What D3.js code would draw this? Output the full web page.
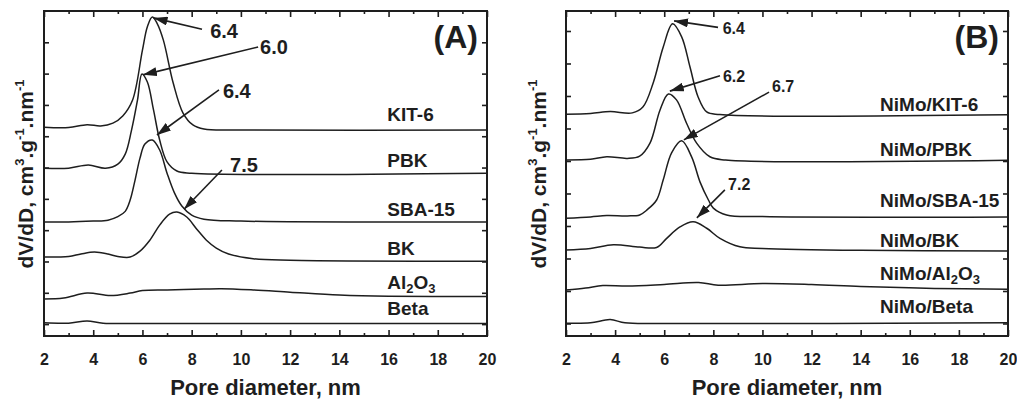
<!DOCTYPE html>
<meta charset="utf-8">
<style>
body { margin: 0; background: #fff; }
svg { font-family: "Liberation Sans", Arial, sans-serif; font-weight: bold; }
.curve { fill: none; stroke: #1e1e1e; stroke-width: 1.5px; }
.frame { fill: none; stroke: #1e1e1e; stroke-width: 2px; }
.axis path { display: none; }
.axis line { stroke: #1e1e1e; stroke-width: 1.6px; }
.axis text { font-size: 16px; fill: #1e1e1e; font-weight: bold; font-family: "Liberation Sans", Arial, sans-serif; }
.lbl { font-size: 19px; fill: #1e1e1e; }
.ann { fill: #1e1e1e; }
.arrow { stroke: #1e1e1e; stroke-width: 1.6px; }
</style>
<svg width="1017" height="399"></svg>
<script src="https://cdn.jsdelivr.net/npm/d3@7"></script>
<script>
// ticks
var xMajor = [2, 4, 6, 8, 10, 12, 14, 16, 18, 20];
var xMinor = [3, 5, 7, 9, 11, 13, 15, 17, 19];
var yTicks = [0, 1, 2, 3, 4, 5, 6, 7, 8, 9];

// panel A - supports (offset curves, arbitrary units)
var kit6 = [[2,6.29],[3,6.28],[3.75,6.37],[4.3,6.33],[4.8,6.42],[5.2,6.65],[5.6,7.16],[6.0,8.75],[6.2,9.5],[6.4,9.81],[6.6,9.6],[6.85,9.07],[7.25,7.7],[7.65,6.74],[8.05,6.36],[8.5,6.23],[10,6.2],[20,6.2]];
var pbk = [[2,4.98],[3,4.98],[3.8,5.08],[4.5,4.98],[5.0,5.11],[5.3,5.43],[5.55,6.17],[5.8,7.16],[5.98,7.99],[6.2,7.73],[6.45,6.84],[6.7,5.88],[7.0,5.18],[7.4,4.89],[8,4.82],[20,4.82]];
var sba15 = [[2,3.26],[3,3.26],[4,3.29],[4.6,3.32],[5.0,3.43],[5.3,3.6],[5.5,3.96],[5.7,4.6],[5.9,5.3],[6.1,5.75],[6.4,5.88],[6.7,5.56],[7.0,4.82],[7.3,4.19],[7.6,3.77],[8.0,3.48],[8.5,3.35],[10,3.29],[20,3.26]];
var bk = [[2,2.14],[3,2.16],[3.5,2.24],[4.05,2.3],[4.6,2.24],[5.0,2.16],[5.5,2.14],[5.9,2.33],[6.3,2.68],[6.7,3.16],[7.1,3.51],[7.4,3.58],[7.8,3.42],[8.2,3.04],[8.6,2.68],[9.0,2.43],[9.5,2.24],[10.5,2.09],[12,2.04],[20,2.01]];
var al2o3 = [[2,0.8],[2.8,0.83],[3.75,0.99],[4.7,0.91],[5.5,0.99],[6.0,1.07],[7,1.09],[8.5,1.12],[9.2,1.13],[10.5,1.09],[12,1.02],[14,0.93],[16,0.89],[20,0.88]];
var beta = [[2,0.04],[3,0.03],[3.75,0.1],[4.4,0.03],[6,0.02],[20,0.02]];
var namesA = ["KIT-6", "PBK", "SBA-15", "BK", "Al|2|O|3", "Beta"];

// panel B - NiMo catalysts
var nmKit6 = [[2,6.44],[3,6.46],[3.8,6.52],[4.7,6.48],[5.13,6.66],[5.55,7.4],[5.96,8.51],[6.34,9.22],[6.71,8.82],[7.05,7.89],[7.38,6.97],[7.73,6.51],[8.27,6.43],[20,6.42]];
var nmPbk = [[2,5.03],[3,5.05],[3.66,5.13],[4.5,5.08],[5.0,5.15],[5.42,5.55],[5.83,6.57],[6.17,7.06],[6.5,6.88],[6.91,6.16],[7.32,5.55],[7.86,5.13],[8.5,5.03],[20,5.02]];
var nmSba15 = [[2,3.24],[3,3.28],[3.66,3.32],[4.5,3.31],[5.0,3.34],[5.29,3.49],[5.69,3.8],[5.96,4.42],[6.3,5.25],[6.71,5.62],[7.12,5.12],[7.46,4.35],[7.8,3.8],[8.0,3.55],[8.54,3.34],[10,3.29],[20,3.28]];
var nmBk = [[2,2.26],[3,2.31],[3.93,2.42],[5,2.35],[5.69,2.34],[6.1,2.62],[6.64,2.97],[7.18,3.13],[7.73,2.93],[8.27,2.62],[9.08,2.36],[10,2.31],[14,2.25],[20,2.23]];
var nmAl2o3 = [[2,1.03],[2.8,1.09],[3.5,1.17],[4.5,1.15],[6,1.2],[7.4,1.26],[8.2,1.18],[10,1.23],[12,1.2],[14,1.14],[17,1.08],[20,1.05]];
var nmBeta = [[2,0.01],[3,0.02],[3.8,0.12],[4.4,0.02],[6,0.0],[20,0.02]];
var namesB = ["NiMo/KIT-6", "NiMo/PBK", "NiMo/SBA-15", "NiMo/BK", "NiMo/Al|2|O|3", "NiMo/Beta"];

// peak annotations: text, arrow tip, arrow tail, text anchor (data units)
var peaksA = [
  {t: "6.4", tip: [6.45, 9.78], tail: [8.42, 9.42], at: [8.75, 9.15]},
  {t: "6.0", tip: [6.02, 7.96], tail: [10.7, 8.85], at: [10.78, 8.63]},
  {t: "6.4", tip: [6.59, 6.04], tail: [9.11, 7.48], at: [9.27, 7.22]},
  {t: "7.5", tip: [7.69, 3.67], tail: [9.23, 4.92], at: [9.56, 4.86]}
];
var peaksB = [
  {t: "6.4", tip: [6.4, 9.31], tail: [8.19, 9.11], at: [8.38, 8.92]},
  {t: "6.2", tip: [6.23, 7.15], tail: [8.27, 7.62], at: [8.39, 7.43]},
  {t: "6.7", tip: [6.8, 5.65], tail: [10.27, 7.12], at: [10.39, 7.12]},
  {t: "7.2", tip: [7.33, 3.25], tail: [8.47, 4.11], at: [8.6, 4.11]}
];

var svg = d3.select("svg");
svg.append("rect").attr("width", 1017).attr("height", 399).attr("fill", "#fff");

svg.append("defs").append("marker")
  .attr("id", "head")
  .attr("markerUnits", "userSpaceOnUse")
  .attr("markerWidth", 15).attr("markerHeight", 9)
  .attr("refX", 14).attr("refY", 4.5)
  .attr("orient", "auto")
  .append("path").attr("d", "M0,0 L14,4.5 L0,9 Z").attr("fill", "#1e1e1e");

function addLabel(sel, name) {
  // "|" separates normal and subscript parts
  var parts = name.split("|");
  parts.forEach(function(p, i) {
    var ts = sel.append("tspan").text(p);
    if (i % 2 == 1) ts.attr("font-size", "13px").attr("dy", 4);
    else if (i > 0) ts.attr("dy", -4);
  });
}

function drawPanel(p) {
  var x = d3.scaleLinear().domain([2, 20]).range([p.left, p.right]);
  var y = d3.scaleLinear().domain(p.yDom).range([336, 11]);
  var g = svg.append("g");

  g.append("g").attr("class", "axis").attr("transform", "translate(0,336)")
    .call(d3.axisBottom(x).tickValues(xMajor).tickSize(-6).tickPadding(18).tickFormat(d3.format("d")));
  g.append("g").attr("class", "axis").attr("transform", "translate(0,336)")
    .call(d3.axisBottom(x).tickValues(xMinor).tickSize(-3).tickFormat(""));
  g.append("g").attr("class", "axis").attr("transform", "translate(0,11)")
    .call(d3.axisTop(x).tickValues(xMajor).tickSize(-6).tickFormat(""));
  g.append("g").attr("class", "axis").attr("transform", "translate(0,11)")
    .call(d3.axisTop(x).tickValues(xMinor).tickSize(-3).tickFormat(""));
  g.append("g").attr("class", "axis").attr("transform", "translate(" + p.left + ",0)")
    .call(d3.axisLeft(y).tickValues(yTicks).tickSize(-5).tickFormat(""));
  g.append("g").attr("class", "axis").attr("transform", "translate(" + p.right + ",0)")
    .call(d3.axisRight(y).tickValues(yTicks).tickSize(-5).tickFormat(""));

  g.append("rect").attr("class", "frame")
    .attr("x", p.left).attr("y", 11)
    .attr("width", p.right - p.left).attr("height", 325);

  var line = d3.line()
    .x(function(d) { return x(d[0]); })
    .y(function(d) { return y(d[1]); })
    .curve(d3.curveCatmullRom.alpha(0.5));

  g.selectAll("path.curve").data(p.series).enter()
    .append("path").attr("class", "curve").attr("d", line);

  p.series.forEach(function(s, i) {
    var last = s[s.length - 1];
    var t = g.append("text").attr("class", "lbl")
      .attr("x", x(p.labelX))
      .attr("y", y(last[1]) + p.labelDy[i]);
    addLabel(t, p.names[i]);
  });

  p.peaks.forEach(function(a) {
    g.append("line").attr("class", "arrow")
      .attr("x1", x(a.tail[0])).attr("y1", y(a.tail[1]))
      .attr("x2", x(a.tip[0])).attr("y2", y(a.tip[1]))
      .attr("marker-end", "url(#head)");
    g.append("text").attr("class", "ann")
      .attr("x", x(a.at[0])).attr("y", y(a.at[1]))
      .attr("font-size", p.annSize)
      .text(a.t);
  });

  g.append("text").attr("x", p.right - 9).attr("y", 48)
    .attr("text-anchor", "end").attr("font-size", "32px").attr("fill", "#1e1e1e")
    .text(p.tag);

  g.append("text").attr("x", (p.left + p.right) / 2).attr("y", 395)
    .attr("text-anchor", "middle").attr("font-size", "22px").attr("fill", "#1e1e1e")
    .text("Pore diameter, nm");

  var yt = g.append("text")
    .attr("transform", "translate(" + p.ytX + ",174) rotate(-90)")
    .attr("text-anchor", "middle").attr("font-size", "21px").attr("fill", "#1e1e1e");
  yt.append("tspan").text("dV/dD, cm");
  yt.append("tspan").attr("font-size", "13px").attr("dy", -9).text("3");
  yt.append("tspan").attr("dy", 9).text(".g");
  yt.append("tspan").attr("font-size", "13px").attr("dy", -9).text("-1");
  yt.append("tspan").attr("dy", 9).text(".nm");
  yt.append("tspan").attr("font-size", "13px").attr("dy", -9).text("-1");
}

drawPanel({
  left: 44, right: 487, yDom: [-0.38, 10], tag: "(A)", ytX: 33,
  series: [kit6, pbk, sba15, bk, al2o3, beta], names: namesA,
  labelX: 15.95, labelDy: [-9, -6, -6, -6, -8, -8],
  peaks: peaksA, annSize: "20px"
});
drawPanel({
  left: 566, right: 1008, yDom: [-0.385, 9.615], tag: "(B)", ytX: 546,
  series: [nmKit6, nmPbk, nmSba15, nmBk, nmAl2o3, nmBeta], names: namesB,
  labelX: 14.79, labelDy: [-4, -4, -10, -4, -9, -10],
  peaks: peaksB, annSize: "16px"
});
</script>
